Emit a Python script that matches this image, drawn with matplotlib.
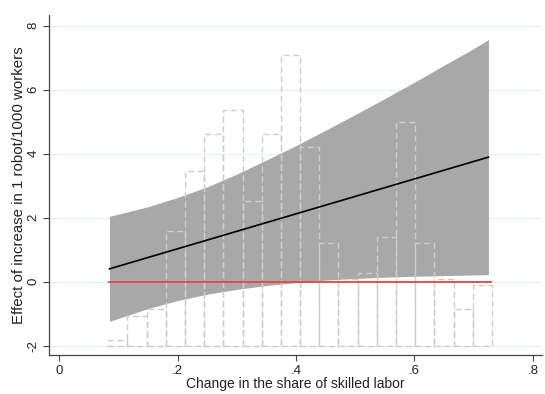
import numpy as np
import matplotlib
matplotlib.use('Agg')
import matplotlib.pyplot as plt

plt.rcParams['font.family'] = ['Liberation Sans', 'DejaVu Sans']

# Histogram of the share change (bar tops in y-axis units, base at -2)
hist_tops = [-1.82, -1.07, -0.86, 1.58, 3.46, 4.61, 5.37, 2.52, 4.61, 7.08,
             4.22, 1.22, 0.09, 0.26, 1.40, 4.98, 1.22, 0.09, -0.86, -0.11]
hist_base = -2
hist_lo, hist_hi = 0.083, 0.731

# Marginal effect and its confidence band
band_x = [0.085, 0.15, 0.2, 0.25, 0.3, 0.35, 0.4, 0.45, 0.5, 0.55, 0.6,
          0.65, 0.7, 0.725]
band_upper = [2.04, 2.34, 2.63, 2.96, 3.36, 3.80, 4.25, 4.73, 5.22, 5.72,
              6.23, 6.76, 7.28, 7.56]
band_lower = [-1.24, -0.84, -0.59, -0.39, -0.24, -0.12, -0.03, 0.05, 0.10,
              0.14, 0.17, 0.19, 0.21, 0.22]
fit_x = [0.085, 0.725]
fit_y = [0.40, 3.89]
zero_x = [0.085, 0.73]
zero_y = [0, 0]

xticks = [0, 0.2, 0.4, 0.6, 0.8]
xtick_labels = ['0', '.2', '.4', '.6', '.8']
yticks = [-2, 0, 2, 4, 6, 8]

fig = plt.figure(figsize=(5.45, 3.94), dpi=100)
ax = fig.add_axes([0.09, 0.099, 0.904, 0.863])

# grid
for yv in yticks:
    ax.axhline(yv, color='#e6eff0', lw=0.8, zorder=0)

# confidence band
ax.fill_between(band_x, band_lower, band_upper, color='#a8a8a8', lw=0, zorder=1)

# histogram outlines
edges = np.linspace(hist_lo, hist_hi, len(hist_tops) + 1)
heights = [t - hist_base for t in hist_tops]
ax.bar(edges[:-1], heights, width=np.diff(edges), bottom=hist_base, align='edge',
       fill=False, edgecolor='#cdcdcd', linestyle=(0, (4.5, 2.5)), lw=1.0, zorder=2)

ax.plot(zero_x, zero_y, color='#e0483c', lw=1.3, zorder=3)
ax.plot(fit_x, fit_y, color='black', lw=1.2, zorder=4)

ax.set_xlim(-0.017, 0.815)
ax.set_ylim(-2.29, 8.33)
ax.set_xticks(xticks)
ax.set_xticklabels(xtick_labels)
ax.set_yticks(yticks)
ax.set_yticklabels([str(v) for v in yticks], rotation=90, va='center')

for side in ['top', 'right']:
    ax.spines[side].set_visible(False)
for side in ['left', 'bottom']:
    ax.spines[side].set_color('#444444')
    ax.spines[side].set_linewidth(0.9)
ax.tick_params(direction='out', length=4, width=0.8, colors='#444444',
               labelcolor='#222222', labelsize=9.5, pad=3)

ax.set_xlabel('Change in the share of skilled labor', fontsize=10,
              color='#222222', labelpad=0)
ax.set_ylabel('Effect of increase in 1 robot/1000 workers', fontsize=10.8,
              color='#222222', labelpad=1)

fig.savefig('out.png', dpi=100)
